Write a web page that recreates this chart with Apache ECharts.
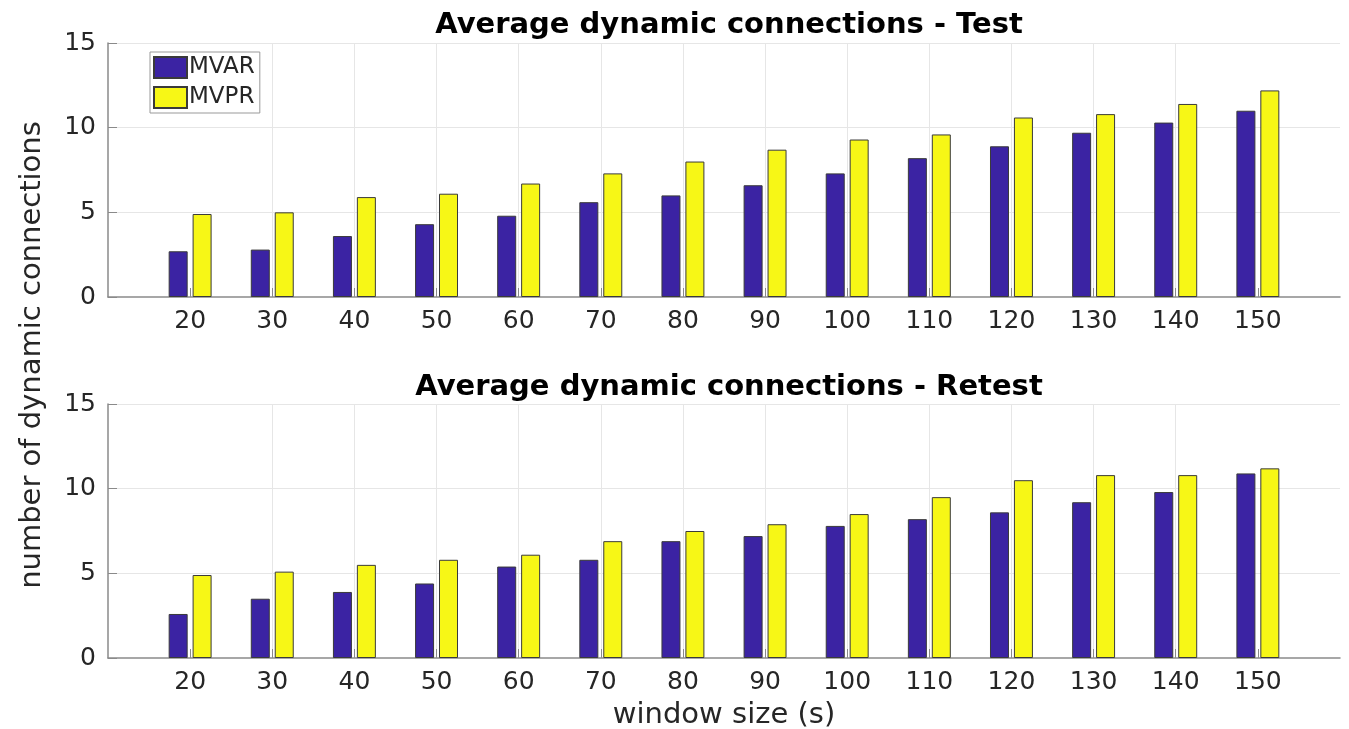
<!DOCTYPE html>
<html>
<head>
<meta charset="utf-8">
<script src="https://cdn.jsdelivr.net/npm/echarts@6/dist/echarts.min.js"></script>
<style>
  html, body { margin: 0; padding: 0; background: #fff; }
  #chart { width: 1349px; height: 729px; }
</style>
</head>
<body>
<div id="chart"></div>
<script>
// Window sizes (s) and average number of dynamic connections per method
const windowSizes = [20, 30, 40, 50, 60, 70, 80, 90, 100, 110, 120, 130, 140, 150];
const testMVAR   = [2.7, 2.8, 3.6, 4.3, 4.8, 5.6, 6.0, 6.6, 7.3, 8.2, 8.9, 9.7, 10.3, 11.0];
const testMVPR   = [4.9, 5.0, 5.9, 6.1, 6.7, 7.3, 8.0, 8.7, 9.3, 9.6, 10.6, 10.8, 11.4, 12.2];
const retestMVAR = [2.6, 3.5, 3.9, 4.4, 5.4, 5.8, 6.9, 7.2, 7.8, 8.2, 8.6, 9.2, 9.8, 10.9];
const retestMVPR = [4.9, 5.1, 5.5, 5.8, 6.1, 6.9, 7.5, 7.9, 8.5, 9.5, 10.5, 10.8, 10.8, 11.2];
const yTicks = [0, 5, 10, 15];

const FONT = '"DejaVu Sans", sans-serif';
const TEXT = '#262626';
const AXIS = '#8a8a8a';
const COLOR_MVAR = '#3b23a3';
const COLOR_MVPR = '#f7f716';

const pairs = (xs, ys) => xs.map((x, i) => [x, ys[i]]);

function xAxisFor(gridIndex, withName) {
  return {
    type: 'value', gridIndex: gridIndex,
    min: 10, max: 160, interval: 10,
    axisLine: { show: true, onZero: false, lineStyle: { color: AXIS, width: 1.5 } },
    axisTick: { show: true, inside: true, length: 9, customValues: windowSizes, lineStyle: { color: AXIS } },
    axisLabel: {
      fontFamily: FONT, fontSize: 25, color: TEXT, margin: 12,
      customValues: windowSizes
    },
    splitLine: { show: true, showMinLine: false, showMaxLine: false, lineStyle: { color: '#e6e6e6', width: 1 } },
    name: withName ? 'window size (s)' : '',
    nameLocation: 'middle', nameGap: 43,
    nameTextStyle: { fontFamily: FONT, fontSize: 29, color: TEXT }
  };
}

function yAxisFor(gridIndex) {
  return {
    type: 'value', gridIndex: gridIndex,
    min: yTicks[0], max: yTicks[yTicks.length - 1], interval: 5,
    axisLine: { show: true, lineStyle: { color: AXIS, width: 1.5 } },
    axisTick: { show: true, inside: true, length: 9, lineStyle: { color: AXIS } },
    axisLabel: { fontFamily: FONT, fontSize: 25, color: TEXT, margin: 12 },
    splitLine: { show: true, showMinLine: false, lineStyle: { color: '#e6e6e6', width: 1 } }
  };
}

function barSeries(name, axisIndex, data, color) {
  return {
    name: name, type: 'bar',
    xAxisIndex: axisIndex, yAxisIndex: axisIndex,
    data: pairs(windowSizes, data),
    barWidth: 19, barGap: '26%',
    itemStyle: { color: color, borderColor: '#3a3a3a', borderWidth: 1 },
    emphasis: { disabled: true },
    animation: false
  };
}

const chart = echarts.init(document.getElementById('chart'), null, { renderer: 'canvas' });
chart.setOption({
  backgroundColor: '#ffffff',
  animation: false,
  title: [
    { text: 'Average dynamic connections - Test', left: 724, top: 6, textAlign: 'center',
      textStyle: { fontFamily: FONT, fontSize: 29, fontWeight: 'bold', color: '#000' } },
    { text: 'Average dynamic connections - Retest', left: 724, top: 368, textAlign: 'center',
      textStyle: { fontFamily: FONT, fontSize: 29, fontWeight: 'bold', color: '#000' } }
  ],
  legend: {
    data: ['MVAR', 'MVPR'],
    orient: 'vertical', left: 150, top: 52,
    icon: 'rect',
    itemWidth: 33, itemHeight: 21, itemGap: 7,
    padding: [4, 5, 4, 3],
    backgroundColor: '#fff', borderColor: '#999', borderWidth: 1,
    textStyle: { fontFamily: FONT, fontSize: 23, color: TEXT, padding: [0, 0, 0, -3] }
  },
  grid: [
    { left: 108, right: 9, top: 43, height: 254, outerBoundsMode: 'none' },
    { left: 108, right: 9, top: 404, height: 254, outerBoundsMode: 'none' }
  ],
  xAxis: [xAxisFor(0, false), xAxisFor(1, true)],
  yAxis: [yAxisFor(0), yAxisFor(1)],
  graphic: [{
    type: 'text',
    rotation: Math.PI / 2,
    x: 32, y: 355,
    style: { text: 'number of dynamic connections', font: '29px ' + FONT, fill: TEXT,
             textAlign: 'center', textVerticalAlign: 'middle' }
  }],
  series: [
    barSeries('MVAR', 0, testMVAR, COLOR_MVAR),
    barSeries('MVPR', 0, testMVPR, COLOR_MVPR),
    barSeries('MVAR', 1, retestMVAR, COLOR_MVAR),
    barSeries('MVPR', 1, retestMVPR, COLOR_MVPR)
  ]
});
</script>
</body>
</html>
